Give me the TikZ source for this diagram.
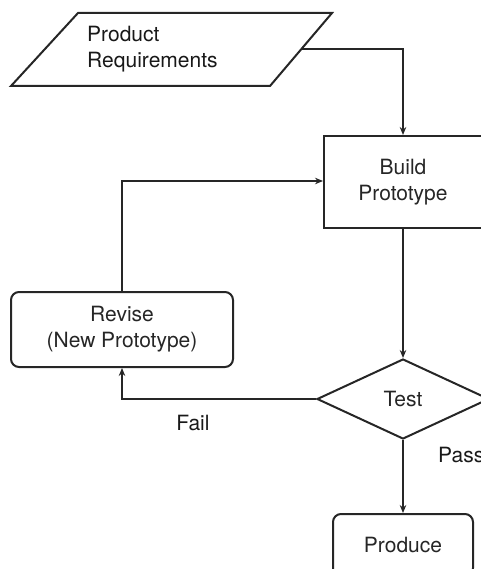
\documentclass[tikz,border=0pt]{standalone}
\usepackage{fontspec}
\setmainfont{TeX Gyre Heros}
\usetikzlibrary{arrows.meta,shapes.geometric}
\begin{document}
\begin{tikzpicture}[x=1pt,y=-1pt,
  every node/.style={font=\fontsize{21}{26}\selectfont, inner sep=0pt, text=black!90},
  line/.style={line width=2pt, color=black!85},
  conn/.style={line, -{Stealth[length=8pt,width=6.5pt]}},
  boxsharp/.style={line, draw, rectangle, minimum width=158pt, minimum height=92pt, align=center},
  boxround/.style={line, draw, rectangle, rounded corners=8pt, align=center},
  decision/.style={line, draw, diamond, minimum width=172pt, minimum height=80pt}
]
\useasboundingbox (0,0) rectangle (480,569);
\draw[line, line join=miter] (78,13) -- (332,13) -- (270,86) -- (11,86) -- cycle;
\coordinate (req) at (301,49.5);
\node[anchor=west, align=left] (reqtext) at (87,49.5) {Product\\Requirements};
\node[boxsharp] (build) at (403,182) {Build\\Prototype};
\node[boxround, minimum width=222pt, minimum height=75pt] (revise) at (122,329.5) {Revise\\(New Prototype)};
\node[decision] (test) at (403,399) {Test};
\node[boxround, minimum width=140pt, minimum height=62pt] (produce) at (403,545) {Produce};
\node (fail) at (193,423) {Fail};
\node[anchor=west] (pass) at (438,455) {Pass};
\coordinate (loop) at (122,181);
\draw[conn] (req) -| (build.north);
\draw[conn] (build.south) -- (test.north);
\draw[conn] (test.west) -| (revise.south);
\draw[conn] (revise.north) -- (loop) -- (build.west |- loop);
\draw[conn] (test.south) -- (produce.north);
\end{tikzpicture}
\end{document}
